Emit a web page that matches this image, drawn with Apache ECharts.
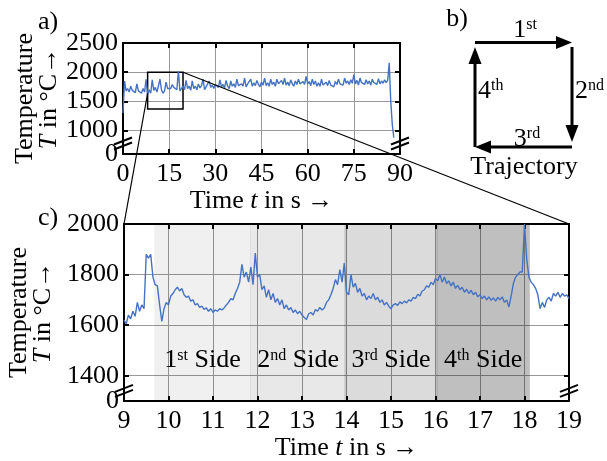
<!DOCTYPE html>
<html>
<head>
<meta charset="utf-8">
<script src="https://cdn.jsdelivr.net/npm/echarts@6/dist/echarts.min.js"></script>
<style>
html, body { margin: 0; padding: 0; background: #fff; }
#chart { width: 607px; height: 461px; }
</style>
</head>
<body>
<div id="chart"></div>
<script>
// panel a: whole process, one sample every 0.5 s from 0 s
const stepA = 0.5
const tempA = [
  1300, 1850, 1680, 1720, 1660, 1760, 1690, 1710, 1650, 1800,
  1680, 1700, 1640, 1720, 1660, 1880, 1610, 1700, 1640, 1870,
  1690, 1740, 1660, 1760, 1880, 1700, 1640, 1680, 1830, 1720,
  1690, 1720, 1790, 1740, 1710, 1700, 2020, 1680, 1720, 1760,
  1700, 1860, 1720, 1760, 1690, 1850, 1720, 1760, 1700, 1800,
  1730, 1770, 1880, 1700, 1750, 1720, 1850, 1740, 1780, 1720,
  1790, 1760, 1740, 1870, 1750, 1790, 1730, 1860, 1760, 1720,
  1850, 1760, 1800, 1740, 1880, 1770, 1740, 1800, 1760, 1900,
  1750, 1800, 1770, 1880, 1760, 1820, 1770, 1860, 1790, 1750,
  1830, 1780, 1900, 1770, 1820, 1760, 1880, 1790, 1830, 1760,
  1880, 1800, 1770, 1860, 1790, 1900, 1780, 1830, 1770, 1870,
  1800, 1760, 1850, 1790, 1880, 1800, 1770, 1840, 1790, 1930,
  1800, 1840, 1770, 1880, 1790, 1850, 1760, 1820, 1760, 1880,
  1780, 1750, 1830, 1770, 1860, 1780, 1800, 1750, 1840, 1790,
  1880, 1800, 1830, 1780, 1900, 1810, 1850, 1790, 1870, 1810,
  1960, 1800, 1860, 1780, 1900, 1820, 1840, 1790, 1870, 1800,
  1850, 1780, 1880, 1820, 1840, 1790, 1890, 1800, 1850, 1810,
  1870, 1820, 1860, 2160, 1500, 1100, 880
]

// panel c: zoom 9..19 s, one sample every 0.05 s
const startC = 9
const stepC = 0.05
const tempC = [
  1620, 1605, 1640, 1625, 1655, 1635, 1690, 1655, 1680, 1665, 1880, 1865, 1880, 1790, 1760, 1755, 1680, 1615, 1665, 1690,
  1680, 1715, 1725, 1740, 1750, 1735, 1745, 1720, 1710, 1715, 1695, 1700, 1680, 1685, 1670, 1675, 1662, 1668, 1655, 1665,
  1650, 1660, 1655, 1665, 1660, 1668, 1680, 1690, 1705, 1700, 1725, 1745, 1770, 1840, 1790, 1810, 1770, 1830, 1760, 1885,
  1790, 1800, 1740, 1755, 1710, 1740, 1700, 1725, 1690, 1705, 1680, 1700, 1665, 1680, 1660, 1670, 1650, 1660, 1645, 1655,
  1640, 1630, 1622, 1645, 1650, 1640, 1662, 1655, 1670, 1660, 1668, 1690, 1700, 1720, 1745, 1780, 1760, 1820, 1770, 1845,
  1730, 1720, 1800, 1750, 1765, 1730, 1745, 1715, 1725, 1700, 1715, 1705, 1725, 1700, 1710, 1690, 1700, 1680, 1690, 1675,
  1665, 1680, 1685, 1678, 1692, 1685, 1695, 1688, 1700, 1695, 1710, 1705, 1722, 1715, 1735, 1740, 1755, 1750, 1770, 1760,
  1785, 1775, 1800, 1770, 1790, 1765, 1775, 1755, 1770, 1745, 1758, 1740, 1750, 1730, 1742, 1725, 1738, 1720, 1730, 1712,
  1720, 1705, 1715, 1700, 1712, 1698, 1708, 1695, 1710, 1700, 1712, 1690, 1700, 1672, 1715, 1765, 1790, 1800, 1810, 1810,
  2000, 1860, 1790, 1770, 1760, 1745, 1720, 1665, 1690, 1670, 1700, 1710, 1695, 1725, 1715, 1730, 1710, 1725, 1715, 1720, 1705
]

// trajectory sides shown in panel c
const sideNum = ['1', '2', '3', '4']
const sideSup = ['st', 'nd', 'rd', 'th']
const sideStart = [9.68, 11.83, 13.95, 16.02]
const sideEnd = [11.85, 14.0, 16.05, 18.12]
const sideFill = ['rgba(0,0,0,0.06)', 'rgba(0,0,0,0.09)', 'rgba(0,0,0,0.14)', 'rgba(0,0,0,0.25)']

// axes (first value = broken-axis bottom, labelled 0)
const ticksYA = [600, 1000, 1500, 2000, 2500]
const ticksYC = [1300, 1400, 1600, 1800, 2000]
const zoomBox = [8, 19.5, 2000, 1370]

const serif = 'Liberation Serif'
const blue = '#4472c4'
const fs = 26

const richName = {
  n: { fontSize: fs, lineHeight: 24, fontFamily: serif, color: '#000' },
  i: { fontSize: fs, lineHeight: 24, fontFamily: serif, fontStyle: 'italic', color: '#000' },
}
const richSup = {
  n: { fontSize: fs, lineHeight: 26, fontFamily: serif, color: '#000' },
  s: { fontSize: 16, lineHeight: 18, fontFamily: serif, color: '#000', verticalAlign: 'top' },
}

const tickStyle = { show: true, inside: true, length: 5, lineStyle: { color: '#000', width: 2 } }
const lineStyle = { show: true, onZero: false, lineStyle: { color: '#000', width: 2 } }
const gridLine = { show: true, lineStyle: { color: '#999', width: 1 } }
const plain = (v) => String(v)

function xBottom (grid, min, max, interval, gap) {
  return {
    type: 'value', gridIndex: grid, min: min, max: max, interval: interval,
    axisLine: lineStyle, axisTick: tickStyle, splitLine: gridLine,
    axisLabel: {
      fontSize: fs, fontFamily: serif, color: '#000', margin: 7,
      showMinLabel: true, showMaxLabel: true, formatter: plain,
    },
    name: '{n|Time }{i|t}{n| in s →}', nameLocation: 'middle', nameGap: gap,
    nameTextStyle: { rich: richName },
  }
}
function xTop (grid, min, max, interval) {
  return {
    type: 'value', gridIndex: grid, position: 'top', min: min, max: max, interval: interval,
    axisLine: lineStyle, axisTick: tickStyle, axisLabel: { show: false }, splitLine: { show: false },
  }
}
function yLeft (grid, ticks) {
  return {
    type: 'value', gridIndex: grid, min: ticks[0], max: ticks[ticks.length - 1],
    axisLine: lineStyle,
    axisTick: Object.assign({ customValues: ticks }, tickStyle),
    axisLabel: {
      customValues: ticks.slice(1), fontSize: fs, fontFamily: serif, color: '#000', margin: 5,
      showMinLabel: true, showMaxLabel: true, formatter: plain,
    },
    splitLine: gridLine,
    name: '{n|Temperature}\n{i|T}{n| in °C→}', nameLocation: 'middle', nameGap: 62, nameRotate: 90,
    nameTextStyle: { rich: richName },
  }
}
function yRight (grid, ticks) {
  return {
    type: 'value', gridIndex: grid, position: 'right', min: ticks[0], max: ticks[ticks.length - 1],
    axisLine: lineStyle,
    axisTick: Object.assign({ customValues: ticks }, tickStyle),
    axisLabel: { show: false }, splitLine: { show: false },
  }
}
// separate axis only for the "0" under the break, so it is not hidden by overlap
function yZero (grid, ticks) {
  return {
    type: 'value', gridIndex: grid, position: 'left', min: ticks[0], max: ticks[ticks.length - 1],
    axisLine: { show: false }, axisTick: { show: false }, splitLine: { show: false },
    axisLabel: {
      customValues: [ticks[0]], showMinLabel: true, fontSize: fs, fontFamily: serif, color: '#000',
      margin: 5, padding: [6, 0, 0, 0], formatter: () => '0',
    },
  }
}

const chart = echarts.init(document.getElementById('chart'))
chart.setOption({
  animation: false,
  textStyle: { fontFamily: serif, color: '#000' },
  grid: [
    { left: 123, top: 43, width: 277, height: 111, outerBoundsMode: 'none', containLabel: false },
    { left: 124, top: 224, width: 445, height: 177, outerBoundsMode: 'none', containLabel: false },
  ],
  xAxis: [xBottom(0, 0, 90, 15, 30), xTop(0, 0, 90, 15), xBottom(1, 9, 19, 1, 33), xTop(1, 9, 19, 1)],
  yAxis: [
    yLeft(0, ticksYA), yRight(0, ticksYA), yLeft(1, ticksYC), yRight(1, ticksYC),
    yZero(0, ticksYA), yZero(1, ticksYC),
  ],
  series: [
    {
      type: 'line', xAxisIndex: 0, yAxisIndex: 0, showSymbol: false,
      lineStyle: { color: blue, width: 1.4 },
      data: tempA.map((v, i) => [i * stepA, v]),
      markArea: {
        silent: true,
        itemStyle: { color: 'rgba(0,0,0,0)', borderColor: '#000', borderWidth: 1.5 },
        data: [[{ coord: [zoomBox[0], zoomBox[2]] }, { coord: [zoomBox[1], zoomBox[3]] }]],
      },
    },
    {
      type: 'line', xAxisIndex: 2, yAxisIndex: 2, showSymbol: false,
      lineStyle: { color: blue, width: 1.4 },
      data: tempC.map((v, i) => [startC + i * stepC, v]),
      markArea: {
        silent: true,
        data: sideNum.map((n, i) => [
          {
            xAxis: sideStart[i],
            itemStyle: { color: sideFill[i] },
            label: {
              show: true, position: 'inside', offset: [0, 48],
              formatter: '{n|' + n + '}{s|' + sideSup[i] + '}{n| Side}',
              rich: richSup,
            },
          },
          { xAxis: sideEnd[i] },
        ]),
      },
    },
  ],
})

// decorations: zoom lines, axis breaks, panel b
const toA = (p) => chart.convertToPixel({ seriesIndex: 0 }, p)
const toC = (p) => chart.convertToPixel({ seriesIndex: 1 }, p)

function breakMark (p) {
  return {
    type: 'group', x: p[0], y: p[1], z: 100,
    children: [
      { type: 'polygon', shape: { points: [[-9, 1], [9, -6], [9, -1], [-9, 6]] }, style: { fill: '#fff' } },
      { type: 'line', shape: { x1: -9, y1: 1, x2: 9, y2: -6 }, style: { stroke: '#000', lineWidth: 2 } },
      { type: 'line', shape: { x1: -9, y1: 6, x2: 9, y2: -1 }, style: { stroke: '#000', lineWidth: 2 } },
    ],
  }
}
function seg (x1, y1, x2, y2, w) {
  return { type: 'line', z: 100, shape: { x1: x1, y1: y1, x2: x2, y2: y2 }, style: { stroke: '#000', lineWidth: w } }
}
function head (pts) {
  return { type: 'polygon', z: 100, shape: { points: pts }, style: { fill: '#000' } }
}
function label (text, x, y, align, rich) {
  return {
    type: 'text', x: x, y: y, z: 100,
    style: {
      text: text, font: fs + 'px "' + serif + '"', fill: '#000',
      align: align, verticalAlign: 'middle', rich: rich,
    },
  }
}

const l0 = toA([zoomBox[0], 1640]), l1 = toC([9, 2000])
const r0 = toA([zoomBox[1], zoomBox[2]]), r1 = toC([19, 2000])

chart.setOption({
  graphic: [
    seg(l0[0], l0[1], l1[0], l1[1], 1.2),
    seg(r0[0], r0[1], r1[0], r1[1], 1.2),
    breakMark(toA([0, 780])), breakMark(toA([90, 780])),
    breakMark(toC([9, 1340])), breakMark(toC([19, 1340])),
    label('a)', 48, 22, 'center'),
    label('b)', 457, 19, 'center'),
    label('c)', 48, 218, 'center'),
    // trajectory square
    seg(475, 42.5, 558, 42.5, 3), head([[556, 36], [572, 42.5], [556, 49]]),
    seg(572, 47, 572, 127, 3), head([[565.5, 125], [572, 142], [578.5, 125]]),
    seg(572, 147, 490, 147, 3), head([[491, 140.5], [475, 147], [491, 153.5]]),
    seg(475, 147, 475, 63, 3), head([[468.5, 64], [475, 47], [481.5, 64]]),
    label('{n|1}{s|st}', 525, 30, 'center', richSup),
    label('{n|2}{s|nd}', 575, 91, 'left', richSup),
    label('{n|3}{s|rd}', 527, 139, 'center', richSup),
    label('{n|4}{s|th}', 478, 91, 'left', richSup),
    label('Trajectory', 524, 167, 'center'),
  ],
})

window.addEventListener('resize', () => {
  chart.resize()
})
</script>
</body>
</html>
